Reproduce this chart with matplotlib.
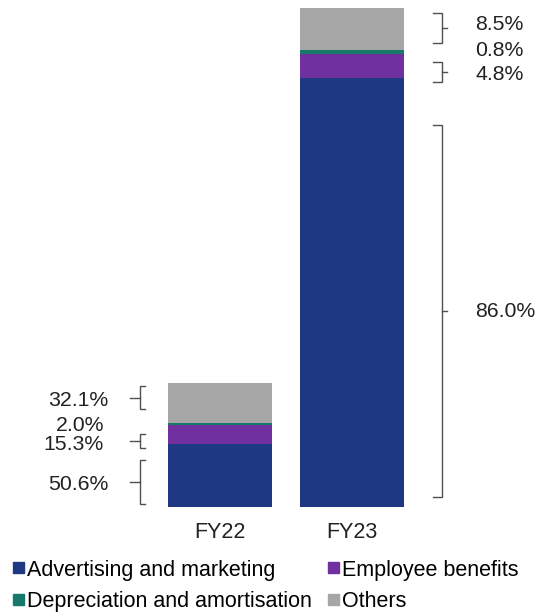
import matplotlib.pyplot as plt
from matplotlib.patches import Patch

plt.rcParams['font.family'] = ['Liberation Sans', 'DejaVu Sans']

years = ['FY22', 'FY23']
categories = ['Advertising and marketing', 'Employee benefits',
              'Depreciation and amortisation', 'Others']
colors = ['#1f3884', '#7030a0', '#16796a', '#a6a6a6']

# segment sizes (relative units, FY22 total = 100)
fy22 = [50.6, 15.3, 2.0, 32.1]
fy23 = [345.7, 19.3, 3.2, 34.2]
pct22 = ['50.6%', '15.3%', '2.0%', '32.1%']
pct23 = ['86.0%', '4.8%', '0.8%', '8.5%']

# label positions and bracket spans (hand placed, like the original)
lab22_x = [-0.848, -0.879, -0.879, -0.848]
lab22_y = [18.5, 50.8, 66.1, 85.5]
lab23_y = [157.3, 348.4, 368.5, 388.7]
br22 = [(2.4, 37.9), (47.6, 58.9), None, (79.0, 97.6)]
br23 = [(8.0, 308.0), (342.7, 358.9), None, (374.2, 398.4)]

FS = 15.5
W, H = 539, 613
fig = plt.figure(figsize=(W / 100, H / 100), dpi=100)
ax = fig.add_axes([0, (H - 507) / H, 1, 499 / H])
ax.set_xlim(-220 / 132, (W - 220) / 132)
ax.set_ylim(0, 402.4)
ax.axis('off')

bottom = [0, 0]
for i, cat in enumerate(categories):
    vals = [fy22[i], fy23[i]]
    ax.bar([0, 1], vals, 0.79, bottom=bottom, color=colors[i], label=cat)
    bottom = [bottom[0] + vals[0], bottom[1] + vals[1]]

for x, yr in enumerate(years):
    ax.text(x, -25 / 1.24, yr, ha='center', va='center', fontsize=FS,
            color='#222222', clip_on=False)

bc = '#505050'


def bracket(ax, xv, xe, xt, y0, y1):
    ym = (y0 + y1) / 2
    ax.plot([xe, xv, xv, xe], [y0, y0, y1, y1], color=bc, lw=1.0,
            clip_on=False, solid_joinstyle='miter')
    ax.plot([xv, xt], [ym, ym], color=bc, lw=1.0, clip_on=False)


for i in range(4):
    ax.text(lab22_x[i], lab22_y[i], pct22[i], ha='right', va='center',
            fontsize=15.3, color='#222222')
    if br22[i]:
        bracket(ax, -0.606, -0.568, -0.682, *br22[i])
    ax.text(1.932, lab23_y[i], pct23[i], ha='left', va='center',
            fontsize=15.3, color='#222222')
    if br23[i]:
        bracket(ax, 1.682, 1.614, 1.720, *br23[i])

# legend fills column by column, so order for rows: adv | emp, dep | others
order = [0, 2, 1, 3]
handles = [Patch(color=colors[k], label=categories[k]) for k in order]
fig.legend(handles=handles, ncol=2, loc='lower left',
           bbox_to_anchor=(0.016, -0.006), frameon=False, fontsize=FS,
           handlelength=0.52, handleheight=0.42, handletextpad=0.12,
           columnspacing=0.75, labelspacing=0.5, borderaxespad=0.0,
           borderpad=0.2)

fig.savefig('out.png', dpi=100)
